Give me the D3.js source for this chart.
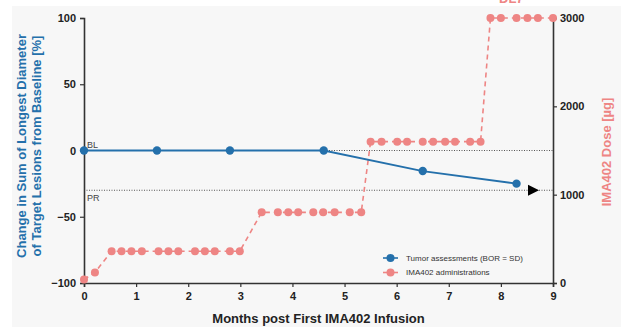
<!DOCTYPE html>
<meta charset="utf-8">
<script src="https://d3js.org/d3.v7.min.js"></script>
<style>
  html, body { margin: 0; padding: 0; background: #fff; }
  svg { font-family: 'Liberation Sans', Arial, sans-serif; display: block; }
</style>
<body>
<div id="my_dataviz"></div>
<script>
// tumor assessments (months, % change from baseline)
var tumorMonths = [0, 1.4, 2.8, 4.6, 6.5, 8.3];
var tumorChange = [0, 0, 0, 0, -15.5, -25];

// IMA402 administrations (months, dose in ug)
var doseMonths = [0, 0.21,
  0.53, 0.72, 0.91, 1.11, 1.43, 1.62, 1.81, 2.13, 2.32, 2.51, 2.8, 2.99,
  3.41, 3.72, 3.92, 4.11, 4.4, 4.59, 4.81, 5.1, 5.32,
  5.5, 5.71, 6.01, 6.2, 6.5, 6.7, 6.93, 7.12, 7.41, 7.61,
  7.8, 8.0, 8.3, 8.51, 8.71, 9.0];
var doseValues = [40, 120,
  360, 360, 360, 360, 360, 360, 360, 360, 360, 360, 360, 360,
  800, 800, 800, 800, 800, 800, 800, 800, 800,
  1600, 1600, 1600, 1600, 1600, 1600, 1600, 1600, 1600, 1600,
  3000, 3000, 3000, 3000, 3000, 3000];

var xTicks = [0, 1, 2, 3, 4, 5, 6, 7, 8, 9];
var leftTicks = [-100, -50, 0, 50, 100];
var rightTicks = [0, 1000, 2000, 3000];
var refLines = [{label: "BL", value: 0}, {label: "PR", value: -30}];
var legendLabels = ["Tumor assessments (BOR = SD)", "IMA402 administrations"];
var doseLimitLabel = "DL7";

var blue = "#2470ab", pink = "#ee8584", axisCol = "#333";

var width = 623, height = 331;

var svg = d3.select("#my_dataviz").append("svg")
  .attr("width", width).attr("height", height);

// light grey panel
svg.append("rect").attr("x", 12).attr("y", 6)
  .attr("width", width - 14).attr("height", height - 10)
  .attr("fill", "#f7f7f7");

var x = d3.scaleLinear().domain([0, 9]).range([84, 553]);
var y = d3.scaleLinear().domain([-100, 100]).range([283, 18]);
var y2 = d3.scaleLinear().domain([0, 3000]).range([283, 18]);

// label cut off at the top, as in the source
svg.append("text").attr("x", x(8.2)).attr("y", 3)
  .attr("text-anchor", "middle").attr("fill", pink)
  .style("font-size", "13px").style("font-weight", "bold")
  .text(doseLimitLabel);

// reference lines
refLines.forEach(function(r) {
  svg.append("line")
    .attr("x1", x(0)).attr("x2", x(9))
    .attr("y1", y(r.value)).attr("y2", y(r.value))
    .attr("stroke", "#555").attr("stroke-width", 1)
    .attr("stroke-dasharray", "1,1.5");
  svg.append("text")
    .attr("x", x(0) + 3)
    .attr("y", r.value === 0 ? y(r.value) - 3 : y(r.value) + 11)
    .attr("fill", "#444").style("font-size", "9px")
    .text(r.label);
});

// axes
var xAxis = svg.append("g").attr("transform", "translate(0,283)")
  .call(d3.axisBottom(x).tickValues(xTicks).tickSize(4).tickFormat(d3.format("d")));
var yAxis = svg.append("g").attr("transform", "translate(84,0)")
  .call(d3.axisLeft(y).tickValues(leftTicks).tickSize(4).tickFormat(d3.format("d")));
var y2Axis = svg.append("g").attr("transform", "translate(553,0)")
  .call(d3.axisRight(y2).tickValues(rightTicks).tickSize(4).tickFormat(d3.format("d")));

[xAxis, yAxis, y2Axis].forEach(function(a) {
  a.select(".domain").attr("stroke", axisCol).attr("stroke-width", 1.6);
  a.selectAll(".tick line").attr("stroke", axisCol).attr("stroke-width", 1.2);
  a.selectAll("text").attr("fill", "#222")
    .style("font-size", "11px").style("font-weight", "bold")
    .style("font-family", "'Liberation Sans', Arial, sans-serif");
});
xAxis.selectAll("text").attr("dy", "0.9em");
yAxis.selectAll("text").attr("dx", "-1px");

// dose series
var doseData = doseMonths.map(function(m, i) { return {m: m, v: doseValues[i]}; });
svg.append("path").datum(doseData)
  .attr("fill", "none").attr("stroke", pink).attr("stroke-width", 1.6)
  .attr("stroke-dasharray", "5,4")
  .attr("d", d3.line().x(function(d) { return x(d.m); }).y(function(d) { return y2(d.v); }));
svg.selectAll(".dose").data(doseData).enter().append("circle")
  .attr("cx", function(d) { return x(d.m); })
  .attr("cy", function(d) { return y2(d.v); })
  .attr("r", 4).attr("fill", pink);

// tumor series
var tumorData = tumorMonths.map(function(m, i) { return {m: m, v: tumorChange[i]}; });
svg.append("path").datum(tumorData)
  .attr("fill", "none").attr("stroke", blue).attr("stroke-width", 1.8)
  .attr("d", d3.line().x(function(d) { return x(d.m); }).y(function(d) { return y(d.v); }));
svg.selectAll(".tumor").data(tumorData).enter().append("circle")
  .attr("cx", function(d) { return x(d.m); })
  .attr("cy", function(d) { return y(d.v); })
  .attr("r", 4.2).attr("fill", blue);

// arrow on PR line (ongoing)
var ax = x(8.52), ay = y(-30);
svg.append("path")
  .attr("d", "M" + ax + "," + (ay - 5.5) + "L" + (ax + 11) + "," + ay + "L" + ax + "," + (ay + 5.5) + "Z")
  .attr("fill", "#000");

// legend
var legend = svg.append("g").attr("transform", "translate(383,258)");
legendLabels.forEach(function(t, i) {
  var g = legend.append("g").attr("transform", "translate(0," + (i * 14.5) + ")");
  var c = i === 0 ? blue : pink;
  g.append("line").attr("x1", 0).attr("x2", 15).attr("stroke", c).attr("stroke-width", 1.6);
  g.append("circle").attr("cx", 7.5).attr("r", 4).attr("fill", c);
  g.append("text").attr("x", 23).attr("dy", "0.35em")
    .attr("fill", "#333").style("font-size", "8px").text(t);
});

// axis titles
svg.append("text")
  .attr("x", x(4.5)).attr("y", 323)
  .attr("text-anchor", "middle").attr("fill", "#222")
  .style("font-size", "13px").style("font-weight", "bold")
  .text("Months post First IMA402 Infusion");

var lt = svg.append("text")
  .attr("transform", "translate(26,146) rotate(-90)")
  .attr("text-anchor", "middle").attr("fill", blue)
  .style("font-size", "13px").style("font-weight", "bold");
lt.append("tspan").attr("x", 0).attr("y", 0).text("Change in Sum of Longest Diameter");
lt.append("tspan").attr("x", 0).attr("y", 15).text("of Target Lesions from Baseline [%]");

svg.append("text")
  .attr("transform", "translate(611,152) rotate(-90)")
  .attr("text-anchor", "middle").attr("fill", pink)
  .style("font-size", "13px").style("font-weight", "bold")
  .text("IMA402 Dose [µg]");
</script>
</body>
